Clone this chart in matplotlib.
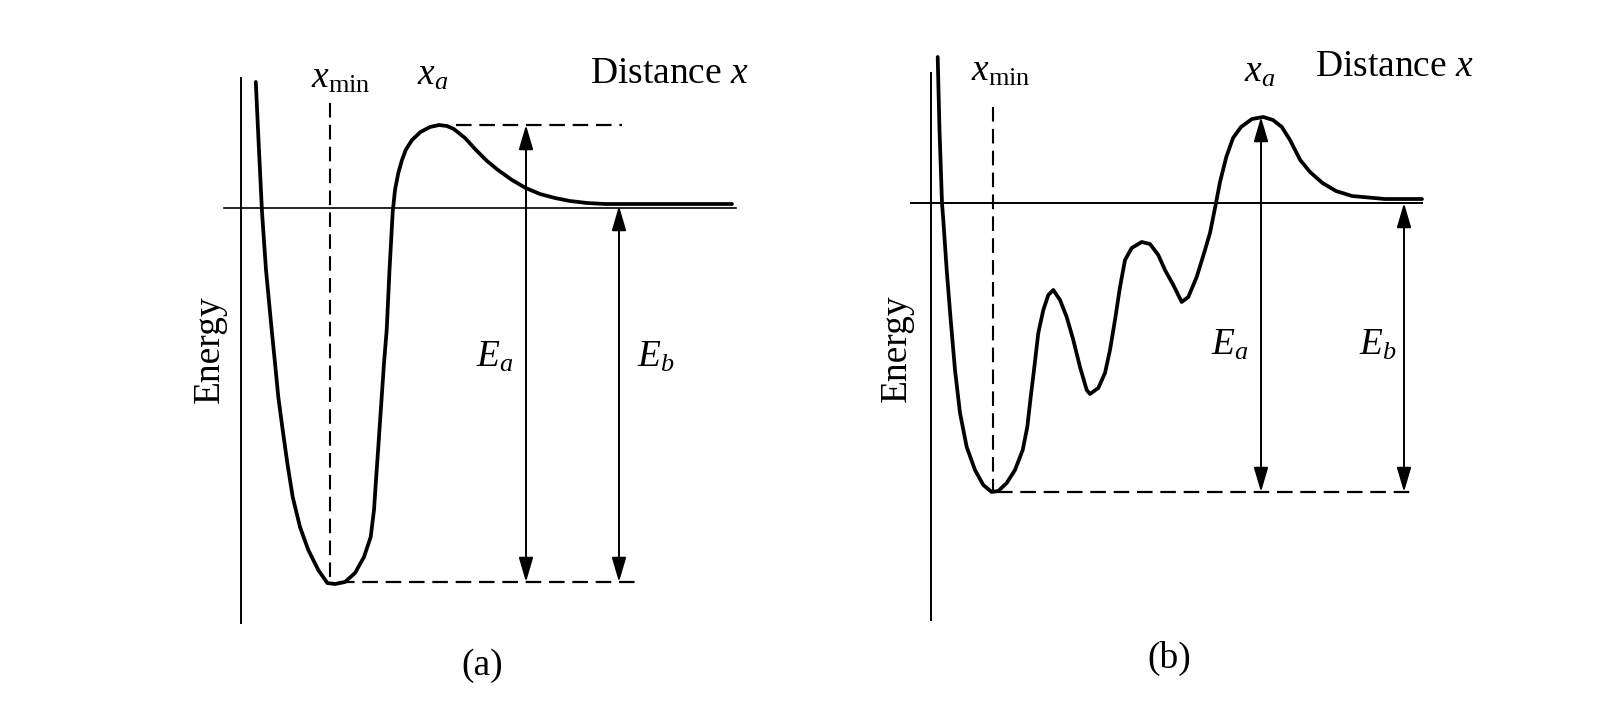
import matplotlib.pyplot as plt

plt.rcParams['font.family'] = ['Liberation Serif', 'DejaVu Serif']
plt.rcParams['mathtext.fontset'] = 'custom'
plt.rcParams['mathtext.rm'] = 'Liberation Serif'
plt.rcParams['mathtext.it'] = 'Liberation Serif:italic'

# panel (a): single barrier, distance / energy in arbitrary units
a_dist = [14.8, 17.5, 21, 25, 30.7, 34, 37.3, 41.7, 46.3, 51.7, 59, 67.3, 77.3, 86.3, 94,
          104, 114, 123, 129.7, 133, 135, 137.3, 140.7, 143, 145.7, 148.5, 151.7, 154,
          157.3, 161, 164.7, 171, 179.5, 189, 198, 206, 212.8, 224, 235, 246, 257, 271,
          284.7, 299, 314, 329, 346, 364, 383, 491]
a_energy = [126, 68, -4, -62, -122, -155, -189, -222, -255, -289, -319, -342, -362, -375,
            -376, -374, -365, -349, -329, -302, -272, -239, -189, -155, -122, -62, -4, 18,
            35, 48, 58, 68, 76, 81, 83, 82, 79, 70, 58, 47, 38, 28, 20, 14, 10, 7, 5, 4, 4, 4]
a_xmin = 89
a_peak = 83
a_well = -375
a_tail = 2
a_Ea_pos = 285
a_Eb_pos = 378

# panel (b): several intermediate wells before the main barrier
b_dist = [6.7, 8.5, 11, 12.3, 15.7, 19.7, 24, 29, 35.7, 44, 52.3, 60.7, 67.3, 75.7, 84,
          91.7, 96.3, 99.7, 103, 107.3, 112.3, 117.3, 122.3, 129, 135.7, 142.3, 149, 155.7,
          159, 167.3, 174, 179, 184, 189, 194, 200.7, 210.7, 219, 227.3, 234, 242.3, 250.7,
          257.3, 265.7, 274, 279, 285, 289, 295.3, 302, 310, 321, 332.3, 342, 350.8, 359,
          369.2, 379, 391.5, 405, 421, 454, 491]
b_energy = [146, 73, 0, -17, -67, -117, -167, -210, -244, -267, -282, -289, -288, -280,
            -267, -247, -224, -194, -167, -130, -107, -92, -87, -97, -114, -137, -164, -187,
            -191, -185, -170, -147, -117, -84, -57, -45, -39, -41, -52, -67, -82, -99, -94,
            -74, -47, -30, 0, 21, 46, 65, 76, 84, 86, 83, 76, 63, 43, 31, 20, 12, 7, 4, 4]
b_xmin = 62
b_peak = 86
b_well = -289
b_tail = 0
b_Ea_pos = 330
b_Eb_pos = 473

W, H = 1607, 703
fig = plt.figure(figsize=(W / 100, H / 100), dpi=100)
fig.patch.set_facecolor('white')

FS = 27
dash = (0, (7, 3.5))


def make_panel(px_left, px_right, origin_x, origin_y):
    # axes laid out so one data unit is one pixel, origin at the axis crossing
    ax = fig.add_axes([px_left / W, (H - 700) / H, (px_right - px_left) / W, 670 / H])
    ax.set_xlim(px_left - origin_x, px_right - origin_x)
    ax.set_ylim(origin_y - 700, origin_y - 30)
    ax.axis('off')
    return ax


def arrow(ax, x, top, bottom):
    ax.annotate('', xy=(x, top), xytext=(x, bottom),
                arrowprops=dict(arrowstyle='<|-|>,head_length=0.75,head_width=0.22',
                                mutation_scale=20, lw=1.4, color='black',
                                shrinkA=0, shrinkB=0))


# ---- (a)
ax = make_panel(150, 780, 241, 208)
ax.plot([0, 0], [130, -415], color='black', lw=1.4)
ax.plot([-17, 495], [0, 0], color='black', lw=1.2)
ax.plot(a_dist, a_energy, color='black', lw=2.7, solid_capstyle='round',
        solid_joinstyle='round')
ax.plot([a_xmin, a_xmin], [105, a_well], color='black', lw=1.5, linestyle=dash)
ax.plot([215, 381], [a_peak, a_peak], color='black', lw=1.6, linestyle=dash)
ax.plot([98, 394], [a_well + 1, a_well + 1], color='black', lw=1.6, linestyle=dash)
arrow(ax, a_Ea_pos, a_peak, a_well + 1)
arrow(ax, a_Eb_pos, a_tail, a_well + 1)
ax.text(100, 120, r'$x_{\mathrm{min}}$', fontsize=FS, ha='center', va='baseline')
ax.text(192, 123, r'$x_a$', fontsize=FS, ha='center', va='baseline')
ax.text(508, 125, r'Distance $x$', fontsize=FS, ha='right', va='baseline')
ax.text(235, -159, r'$E_a$', fontsize=FS, ha='left', va='baseline')
ax.text(396, -159, r'$E_b$', fontsize=FS, ha='left', va='baseline')
ax.text(-31, -141, 'Energy', fontsize=FS, rotation=90, ha='center', va='center')
ax.text(241, -458, '(a)', fontsize=FS, ha='center', va='center')

# ---- (b)
ax = make_panel(840, 1500, 931, 203)
ax.plot([0, 0], [130, -417], color='black', lw=1.4)
ax.plot([-20, 491], [0, 0], color='black', lw=1.4)
ax.plot(b_dist, b_energy, color='black', lw=2.7, solid_capstyle='round',
        solid_joinstyle='round')
ax.plot([b_xmin, b_xmin], [96, b_well], color='black', lw=1.5, linestyle=dash)
ax.plot([66, 480], [b_well, b_well], color='black', lw=1.6, linestyle=dash)
arrow(ax, b_Ea_pos, b_peak, b_well)
arrow(ax, b_Eb_pos, b_tail, b_well)
ax.text(70, 122, r'$x_{\mathrm{min}}$', fontsize=FS, ha='center', va='baseline')
ax.text(329, 121, r'$x_a$', fontsize=FS, ha='center', va='baseline')
ax.text(543, 127, r'Distance $x$', fontsize=FS, ha='right', va='baseline')
ax.text(280, -152, r'$E_a$', fontsize=FS, ha='left', va='baseline')
ax.text(428, -152, r'$E_b$', fontsize=FS, ha='left', va='baseline')
ax.text(-34, -145, 'Energy', fontsize=FS, rotation=90, ha='center', va='center')
ax.text(238, -455, '(b)', fontsize=FS, ha='center', va='center')

fig.savefig('out.png', dpi=100, facecolor='white')
